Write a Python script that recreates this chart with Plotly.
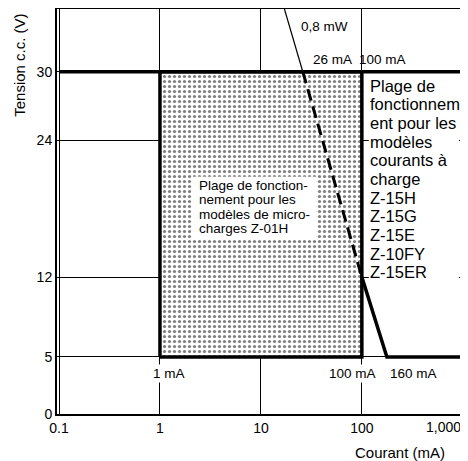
import numpy as np
import plotly.graph_objects as go

# ticks
x_ticks = [0.1, 1, 10, 100, 1000]
x_tick_text = ["0.1", "1", "10", "100", "1,000"]
y_ticks = [0, 5, 12, 24, 30]

# micro-load operating range (rectangle)
micro_x = [1, 100, 100, 1, 1]
micro_y = [5, 5, 30, 30, 5]

# 30 V limit across the whole range
limit_x = [0.1, 1000]
limit_y = [30, 30]

# 0,8 mW line: thin above 30 V, dashed inside the box, solid below
pw_thin_x = [17.1, 26]
pw_thin_y = [35.5, 30]
pw_dash_x = [26, 100]
pw_dash_y = [30, 12]
pw_solid_x = [100, 177, 1000]
pw_solid_y = [12, 5, 5]

micro_lines = ["Plage de fonction-", "nement pour les", "modèles de micro-", "charges Z-01H"]
std_lines = ["Plage de", "fonctionnem", "ent pour les", "modèles", "courants à", "charge",
             "Z-15H", "Z-15G", "Z-15E", "Z-10FY", "Z-15ER"]

FONT = "Liberation Sans, Arial, sans-serif"

fig = go.Figure()

fig.add_trace(go.Scatter(
    x=micro_x, y=micro_y, mode="lines", fill="toself",
    fillcolor="white",
    fillpattern=dict(shape=".", size=5, solidity=0.33, fgcolor="black", bgcolor="white"),
    line=dict(color="black", width=3.5), hoverinfo="skip"))

fig.add_trace(go.Scatter(x=limit_x, y=limit_y, mode="lines",
                         line=dict(color="black", width=3.5), hoverinfo="skip"))
fig.add_trace(go.Scatter(x=pw_thin_x, y=pw_thin_y, mode="lines",
                         line=dict(color="black", width=1.2), hoverinfo="skip"))
fig.add_trace(go.Scatter(x=pw_dash_x, y=pw_dash_y, mode="lines",
                         line=dict(color="black", width=3, dash="12px,6px"), hoverinfo="skip"))
fig.add_trace(go.Scatter(x=pw_solid_x, y=pw_solid_y, mode="lines",
                         line=dict(color="black", width=3.5), hoverinfo="skip"))

# white boxes behind the two text blocks
fig.add_shape(type="rect", xref="paper", yref="paper", x0=0.333, x1=0.638, y0=0.433, y1=0.586,
              fillcolor="white", line=dict(width=0), layer="above")
fig.add_shape(type="rect", xref="paper", yref="paper", x0=0.768, x1=0.99, y0=0.33, y1=0.835,
              fillcolor="white", line=dict(width=0), layer="above")

def lbl(logx, y, t, size=13.5, **kw):
    fig.add_annotation(x=logx, y=y, text=t, showarrow=False,
                       font=dict(size=size, color="black", family=FONT), **kw)

lbl(1.633, 34.0, "0,8 mW")
lbl(1.713, 31.04, "26 mA")
lbl(2.208, 31.04, "100 mA")
lbl(0.089, 3.58, "1 mA", bgcolor="white", borderpad=1)
lbl(1.911, 3.58, "100 mA", bgcolor="white", borderpad=1)
lbl(2.515, 3.58, "160 mA", bgcolor="white", borderpad=1)

for i, t in enumerate(micro_lines):
    lbl(0.366, 20.02 - i * 1.26, t, size=13.5, xanchor="left")

for i, t in enumerate(std_lines):
    lbl(2.059, 28.77 - i * 1.635, t, size=16.5, xanchor="left")

# last x tick label sits flush with the right edge in the original
fig.add_annotation(xref="paper", yref="paper", x=1.0, y=-0.033, text=x_tick_text[-1],
                   xanchor="right", yanchor="middle", showarrow=False,
                   font=dict(size=14, color="black", family=FONT))

fig.add_annotation(xref="paper", yref="paper", x=-0.091, y=0.86, text="Tension c.c. (V)",
                   xanchor="center", yanchor="middle", textangle=-90, showarrow=False,
                   font=dict(size=15, color="black", family=FONT))
fig.add_annotation(xref="paper", yref="paper", x=0.845, y=-0.094, text="Courant (mA)",
                   xanchor="center", yanchor="middle", showarrow=False,
                   font=dict(size=15, color="black", family=FONT))

fig.update_xaxes(type="log", range=[-1.02, 3.002], tickvals=x_ticks,
                 ticktext=x_tick_text[:-1] + [""],
                 showgrid=True, gridcolor="black", gridwidth=1,
                 showline=True, linecolor="black", linewidth=2, mirror=True,
                 ticks="", zeroline=False, automargin=False,
                 tickfont=dict(size=14, color="black", family=FONT))
fig.update_yaxes(range=[0, 35.5], tickvals=y_ticks,
                 showgrid=True, gridcolor="black", gridwidth=1,
                 showline=True, linecolor="black", linewidth=2, mirror=True,
                 ticks="", zeroline=False, automargin=False,
                 tickfont=dict(size=14, color="black", family=FONT))

# page body has an 8px margin, so the figure is sized/offset to compensate
fig.update_layout(width=460, height=453, margin=dict(l=49, r=5, t=1, b=47),
                  plot_bgcolor="white", paper_bgcolor="white", showlegend=False,
                  font=dict(family=FONT, color="black"))

fig.write_html("out.html")
